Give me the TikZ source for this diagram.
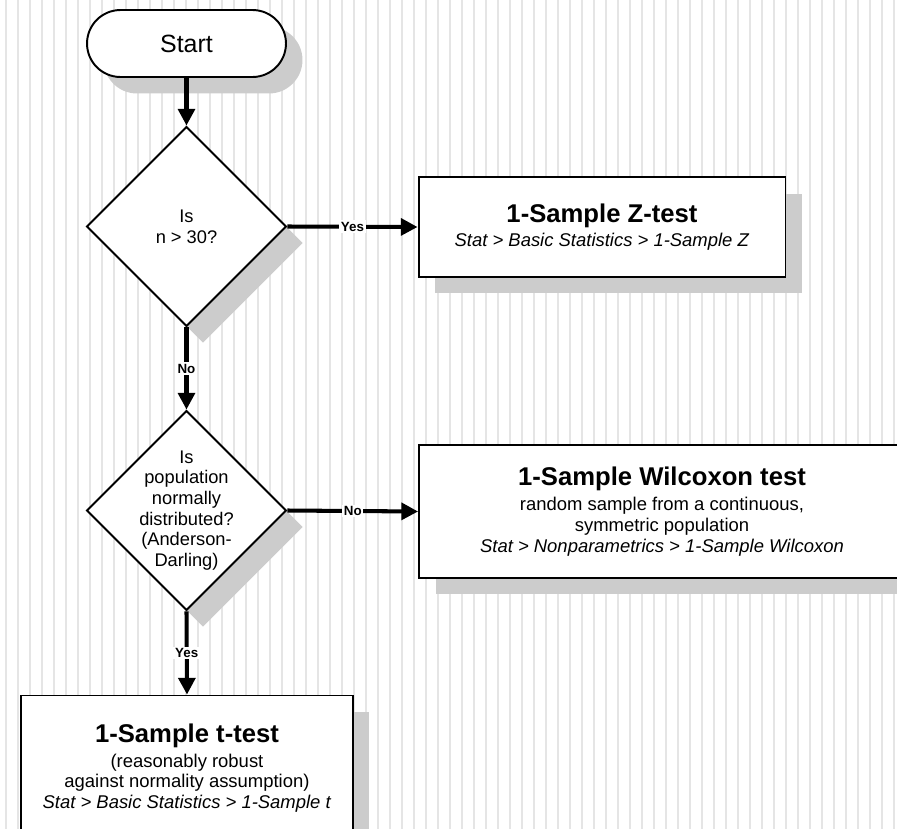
\documentclass[tikz,border=0pt]{standalone}
\usepackage{fontspec}
\setmainfont{Liberation Sans}
\usepackage{tikz}
\usetikzlibrary{shapes.geometric, arrows.meta, shadows}

\newcommand{\titlefont}{\fontsize{14.6}{17}\selectfont\bfseries}

\begin{document}
\begin{tikzpicture}[
    x=0.02cm, y=-0.02cm,
    every node/.style={font=\fontsize{10.5}{11.8}\selectfont},
    shade box/.style={drop shadow={shadow xshift=0.33cm, shadow yshift=-0.33cm, fill=black!20, opacity=1}},
    terminal/.style={draw, line width=1.1pt, fill=white, rounded corners=0.67cm,
      minimum width=3.98cm, minimum height=1.34cm, shade box, font=\fontsize{14.2}{17}\selectfont},
    decision/.style={draw, diamond, aspect=1, line width=1.1pt, fill=white,
      minimum width=4cm, minimum height=4cm, inner sep=0pt, shade box},
    dtext/.style={align=center, font=\fontsize{10.4}{11.8}\selectfont},
    process/.style={draw, rectangle, line width=1.1pt, fill=white, align=center, inner sep=0pt, shade box},
    flow/.style={line width=2.3pt, -{Triangle[length=9.5pt, width=9.5pt]}},
    answer/.style={fill=white, inner sep=1pt, font=\fontsize{7.6}{9}\selectfont\bfseries},
    stripe/.style={black!10, line width=1pt},
  ]
  \useasboundingbox (0,0) rectangle (897,829);
  \clip (0,0) rectangle (897,829);

  % Striped background
  \foreach \x in {6,18,...,894}
    \draw[stripe] (\x,0) -- (\x,829);

  % Start and decisions
  \node[terminal] (start) at (186.5,43.5) {Start};
  \node[decision, label={[dtext]center:Is\\n > 30?}] (bigN) at (186.5,226.5) {};
  \node[decision, label={[dtext]center:Is\\population\\normally\\distributed?\\(Anderson-\\Darling)}] (normal) at (186.5,510.5) {};

  % Tests
  \node[process, minimum width=7.34cm, minimum height=2cm] (ztest) at (602,227)
    {{\titlefont 1-Sample Z-test}\\[1.5pt]
     \textit{Stat > Basic Statistics > 1-Sample Z}};
  \node[process, minimum width=9.72cm, minimum height=2.66cm] (wilcoxon) at (662,511.5)
    {{\titlefont 1-Sample Wilcoxon test}\\[2.5pt]
     random sample from a continuous,\\
     symmetric population\\
     \textit{Stat > Nonparametrics > 1-Sample Wilcoxon}};
  \node[process, minimum width=6.64cm, minimum height=2.9cm] (ttest) at (187,768)
    {{\titlefont 1-Sample t-test}\\[2.5pt]
     (reasonably robust\\
     against normality assumption)\\
     \textit{Stat > Basic Statistics > 1-Sample t}};

  % Connectors
  \draw[flow] (start) -- (bigN);
  \draw[flow] (bigN.east) -- node[answer] {Yes} (ztest.west);
  \draw[flow] (bigN.south) -- node[answer] {No} (normal.north);
  \draw[flow] (normal.east) -- node[answer] {No} (wilcoxon.west);
  \draw[flow] (normal.south) -- node[answer] {Yes} (ttest.north);
\end{tikzpicture}
\end{document}
